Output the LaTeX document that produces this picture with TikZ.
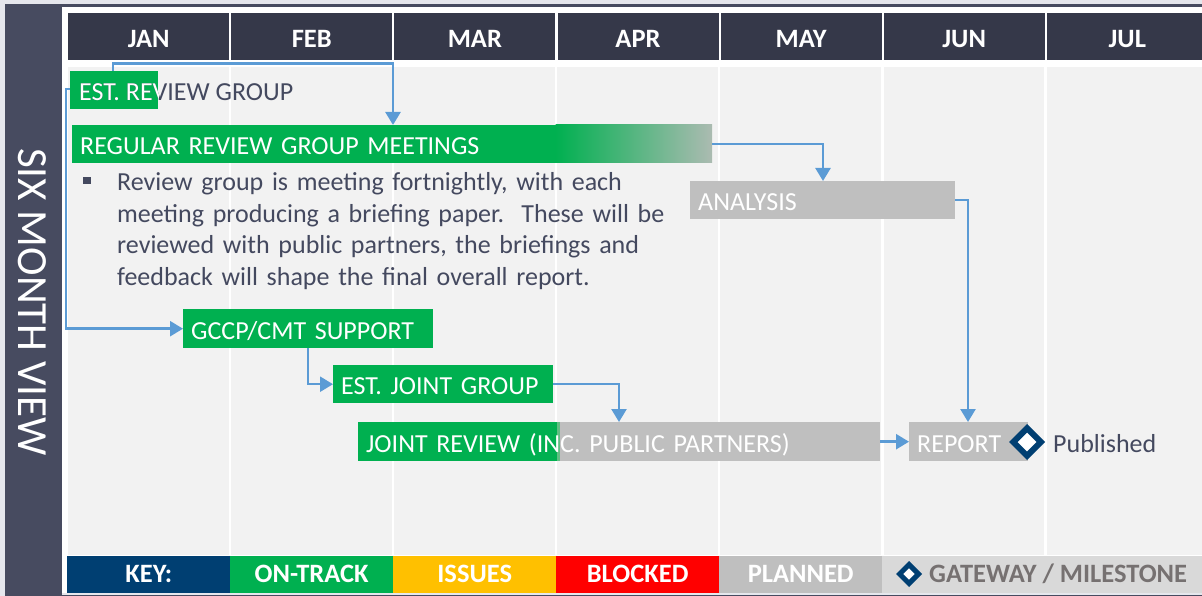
\documentclass[tikz,border=0pt]{standalone}
\usepackage{fontspec}
\setmainfont{Carlito}
\usetikzlibrary{arrows.meta,shapes.geometric,calc}
\definecolor{hdr}{RGB}{53,56,73}
\definecolor{panel}{RGB}{71,75,96}
\definecolor{bodyg}{RGB}{242,242,242}
\definecolor{ontrack}{RGB}{0,176,80}
\definecolor{planned}{RGB}{191,191,191}
\definecolor{arrowblue}{RGB}{91,155,213}
\definecolor{keyblue}{RGB}{0,63,114}
\definecolor{amber}{RGB}{255,192,0}
\definecolor{blockred}{RGB}{255,0,0}
\definecolor{gatebg}{RGB}{217,217,217}
\definecolor{gatetxt}{RGB}{118,113,113}
\definecolor{txt}{RGB}{68,73,95}
\definecolor{fadegrey}{RGB}{171,187,177}
\definecolor{lightgreen}{RGB}{96,190,130}
\definecolor{outer}{RGB}{230,231,237}
\newcommand\barfont{\fontsize{26}{31.7}\selectfont}
\newcommand\hdrfont{\fontsize{26.5}{30}\selectfont\bfseries}
\begin{document}
\begin{tikzpicture}[x=1pt,y=-1pt,
  bar/.style={anchor=north west, inner xsep=8pt, inner ysep=0pt, minimum height=38pt,
    text width=#1, align=left, text height=21pt, text depth=0pt, text=white, font=\barfont},
  month/.style={anchor=north west, inner sep=0pt, minimum width=161pt, minimum height=47pt,
    fill=hdr, text=white, font=\hdrfont, text height=21pt, text depth=0pt},
  keycell/.style={anchor=north west, inner sep=0pt, minimum width=163pt, minimum height=37pt,
    text=white, font=\hdrfont, text height=17pt, text depth=0pt},
  conn/.style={draw=arrowblue, line width=2.5pt, -{Triangle[length=13pt,width=15pt]}},
  ms/.style={diamond, draw=keyblue, fill=white, inner sep=0pt, line join=miter}]
\useasboundingbox (0,0) rectangle (1202,596);
% frame
\fill[outer] (0,0) rectangle (1202,596);
\fill[white] (62,7.5) rectangle (1202,593);
\fill[panel] (5,4) rectangle (1202,7.5);
\fill[panel] (5,4) rectangle (62,596);
\fill[panel] (62,594.5) rectangle (1202,596);
\node[rotate=-90, text=white, font=\fontsize{43}{43}\selectfont, inner sep=0pt] (six) at (32,302) {SIX MONTH VIEW};
% body columns
\foreach \i in {0,...,6}{
  \fill[bodyg] (68+163.1*\i,67) rectangle ++(160.6,488);
}
% month header
\node[month] (jan) at (68,13) {JAN};
\node[month] (feb) at (231.1,13) {FEB};
\node[month] (mar) at (394.2,13) {MAR};
\node[month] (apr) at (557.3,13) {APR};
\node[month] (may) at (720.4,13) {MAY};
\node[month] (jun) at (883.5,13) {JUN};
\node[month] (jul) at (1046.6,13) {JUL};
% EST. REVIEW GROUP
\node[anchor=north west, inner sep=0pt, minimum width=88pt, minimum height=38pt, fill=ontrack] (estrev) at (70,71) {};
\node[anchor=west, inner sep=0pt, text=txt, font=\barfont, text height=21pt, text depth=0pt] (estrevt) at (79,90) {EST. REVIEW GROUP};
\begin{scope}
  \clip (estrev.north west) rectangle (estrev.south east);
  \node[anchor=west, inner sep=0pt, text=white, font=\barfont, text height=21pt, text depth=0pt] at (79,90) {EST. REVIEW GROUP};
\end{scope}
% REGULAR REVIEW GROUP MEETINGS
\fill[ontrack] (72,125) rectangle (556,163);
\shade[left color=ontrack, right color=fadegrey] (555.5,125) rectangle (712,163);
\node[bar=624pt] (reg) at (72,125) {REGULAR REVIEW GROUP MEETINGS};
% bullet text
\node[fill=txt, inner sep=0pt, minimum width=7.5pt, minimum height=7pt] (bul) at (87,180.5) {};
\node[anchor=base west, inner sep=0pt, text width=600pt, align=left, text=txt, font=\barfont] (desc) at (117,190.5)
  {\frenchspacing Review group is meeting fortnightly, with each\\
   meeting producing a briefing paper.~ These will be\\
   reviewed with public partners, the briefings and\\
   feedback will shape the final overall report.};
% ANALYSIS
\node[bar=249pt, fill=planned] (ana) at (690,181) {ANALYSIS};
% GCCP
\node[bar=234pt, fill=ontrack, minimum height=39pt] (gccp) at (183,309) {GCCP/CMT SUPPORT};
% EST JOINT GROUP
\node[bar=203.5pt, fill=ontrack] (estjoint) at (333,365) {EST. JOINT GROUP};
% JOINT REVIEW
\fill[planned] (358,422) rectangle (880,461);
\fill[ontrack] (358,422) rectangle (556.5,461);
\fill[lightgreen] (556.5,422) rectangle (560,461);
\node[bar=506pt, minimum height=39pt] (jr) at (358,422) {JOINT REVIEW (INC. PUBLIC PARTNERS)};
% REPORT
\node[bar=103pt, fill=planned, minimum height=39pt] (report) at (909,422) {REPORT};
\node[ms, minimum size=30pt, line width=6pt] (mile) at (1027,442) {};
\node[anchor=west, inner sep=0pt, text=txt, font=\barfont, text height=21pt, text depth=0pt] (pub) at (1053,442) {Published};
% connectors
\draw[conn] ([xshift=43pt]estrev.north west) -- ++(0,-7.5) -| ([xshift=321pt]reg.north west);
\draw[conn] ([yshift=1pt]estrev.west) -- ++(-4,0) |- (gccp.west);
\draw[conn] ([xshift=125pt]gccp.south west) |- (estjoint.west);
\draw[conn] (estjoint.east) -| ([xshift=261pt]jr.north west);
\draw[conn] (jr.east) -- (report.west);
\draw[conn] (reg.east) -| ([xshift=133pt]ana.north west);
\draw[conn] (ana.east) -| ([xshift=59pt]report.north west);
% key
\node[keycell, fill=keyblue] (kkey) at (67,555.5) {KEY:};
\node[keycell, fill=ontrack] (kon) at (230,555.5) {ON-TRACK};
\node[keycell, fill=amber] (kiss) at (393,555.5) {ISSUES};
\node[keycell, fill=blockred] (kblk) at (556,555.5) {BLOCKED};
\node[keycell, fill=planned] (kpl) at (719,555.5) {PLANNED};
\node[keycell, fill=gatebg, minimum width=320pt] (kgate) at (882,555.5) {};
\node[ms, minimum size=21pt, line width=5pt] (kdia) at (909,574) {};
\node[anchor=west, inner sep=0pt, text=gatetxt, font=\hdrfont, text height=17pt, text depth=0pt] (kgatet) at (929,574) {GATEWAY / MILESTONE};
\end{tikzpicture}
\end{document}
